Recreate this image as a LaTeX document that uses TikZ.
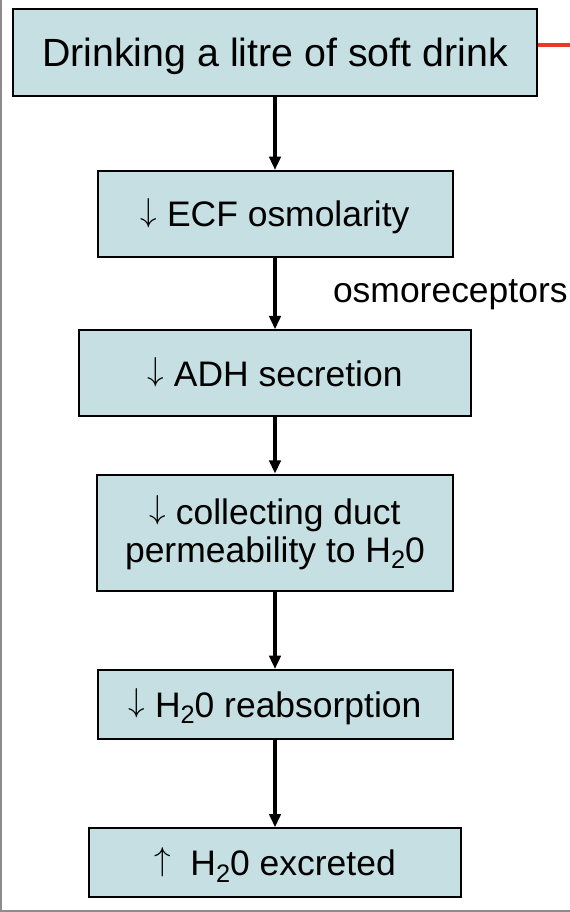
\documentclass[tikz,border=0pt]{standalone}
\usepackage{graphicx}
\usepackage{fontspec}
\setmainfont{Liberation Sans}
\usetikzlibrary{arrows.meta}
\usetikzlibrary{positioning}
\definecolor{boxfill}{RGB}{197,223,226}
\definecolor{linkred}{RGB}{232,57,42}
\definecolor{framegray}{RGB}{140,140,140}
\newcommand\dnarrow{\raisebox{0.15em}{$\downarrow$}}
\newcommand\uparr{\raisebox{0.15em}{$\uparrow$}}
\newcommand\subtwo{\raisebox{-5pt}{\fontsize{19}{19}\selectfont 2}}

\begin{document}
\begin{tikzpicture}[x=0.75pt,y=-0.75pt,
  every node/.style={draw,fill=boxfill,line width=1.5pt,align=center,inner sep=0pt,
    font=\fontsize{26.6}{28.5}\selectfont},
  capline/.style={text height=#1,text depth=0pt},
  capline/.default=19pt,
  link/.style={line width=3pt,-{Triangle[width=8.5pt,length=10pt]}}]
  \useasboundingbox (0,0) rectangle (570,912);
  \draw[framegray,line width=1.5pt] (1,0) -- (1,911) -- (570,911);

  \node (1) at (275,52.5)[capline=21.1pt,minimum width=393pt,minimum height=65.25pt,
    font=\fontsize{29.5}{35}\selectfont]{Drinking a litre of soft drink};
  \node[below=54.75pt of 1](2)[capline,minimum width=266.25pt,minimum height=64.5pt]{\dnarrow\ ECF osmolarity};
  \node[below=53.5pt of 2](3)[capline,minimum width=294pt,minimum height=64.5pt]{\dnarrow\ ADH secretion};
  \node[below=42.25pt of 3](4)[minimum width=267pt,minimum height=87pt]{\dnarrow\ collecting duct\\permeability to H\subtwo0};
  \node[below=58pt of 4](5)[capline,minimum width=266.25pt,minimum height=51.75pt]{\dnarrow\ H\subtwo0 reabsorption};
  \node[below=65.5pt of 5](6)[capline,minimum width=279pt,minimum height=51.75pt]{\uparr\ \ H\subtwo0 excreted};

  \node (7) at (332,303)[anchor=base west,draw=none,fill=none]{osmoreceptors};
  \coordinate (8) at (570,45);

  \draw[link](1)--(2);
  \draw[link](2)--(3);
  \draw[link](3)--(4);
  \draw[link](4)--(5);
  \draw[link](5)--(6);
  \draw[linkred,line width=3.5pt](1.east |- 8)--(8);
\end{tikzpicture}
\end{document}
